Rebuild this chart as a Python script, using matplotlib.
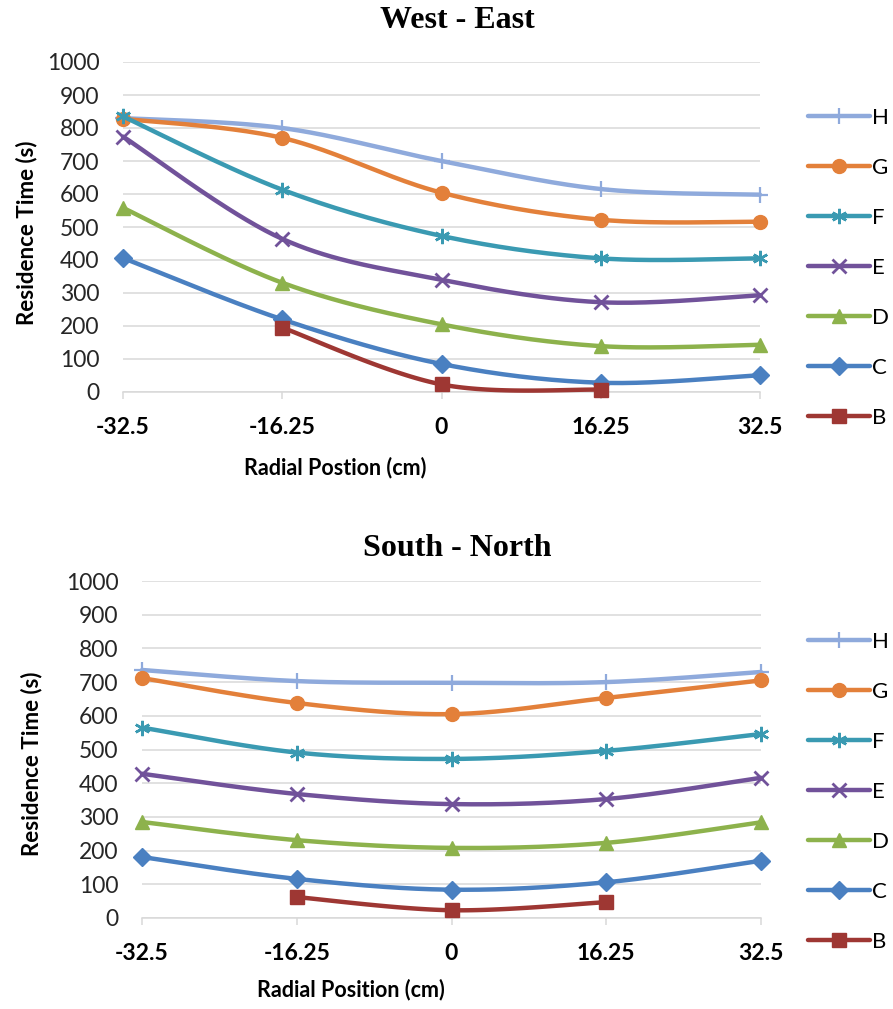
import numpy as np
import matplotlib
matplotlib.use("Agg")
import matplotlib.pyplot as plt

# Radial positions (cm) and their tick labels
positions = [-32.5, -16.25, 0.0, 16.25, 32.5]
tick_labels = ["-32.5", "-16.25", "0", "16.25", "32.5"]
yticks = [0, 100, 200, 300, 400, 500, 600, 700, 800, 900, 1000]

series_names = ["H", "G", "F", "E", "D", "C", "B"]
series_colors = ["#8FAADC", "#E3803A", "#3A9AB2", "#71529A", "#8DB24C", "#4A80C1", "#9E3733"]

# West - East residence times (s)
we_H = [830, 800, 700, 615, 598]
we_G = [828, 770, 604, 522, 516]
we_F = [835, 613, 473, 405, 405]
we_E = [774, 464, 340, 272, 293]
we_D = [558, 331, 205, 139, 143]
we_C = [406, 220, 85, 28, 51]
we_B = [np.nan, 195, 23, 7, np.nan]

# South - North residence times (s)
sn_H = [736, 703, 698, 700, 730]
sn_G = [712, 638, 605, 653, 705]
sn_F = [565, 491, 472, 496, 546]
sn_E = [428, 368, 338, 353, 416]
sn_D = [285, 231, 208, 223, 284]
sn_C = [181, 116, 84, 106, 170]
sn_B = [np.nan, 62, 23, 47, np.nan]

west_east = [we_H, we_G, we_F, we_E, we_D, we_C, we_B]
south_north = [sn_H, sn_G, sn_F, sn_E, sn_D, sn_C, sn_B]

markers = ["+", "o", (6, 2, 0), "x", "^", "D", "s"]
marker_sizes = [11, 10, 11, 10, 10, 9, 10]
marker_ew = [1.6, 1, 1.8, 2.0, 1, 1, 1]

SANS = "Lato"
SERIF = "Liberation Serif"


def smooth_curve(x, y, n=40):
    """Cubic Bezier smoothing through the points (spreadsheet-style smoothed line)."""
    x = np.asarray(x, float)
    y = np.asarray(y, float)
    ok = ~np.isnan(y)
    pts = np.column_stack([x[ok], y[ok]])
    out = [pts[0]]
    t = np.linspace(0, 1, n)[1:, None]
    for i in range(len(pts) - 1):
        p0 = pts[max(i - 1, 0)]
        p1 = pts[i]
        p2 = pts[i + 1]
        p3 = pts[min(i + 2, len(pts) - 1)]
        c1 = p1 + (p2 - p0) / 6.0
        c2 = p2 - (p3 - p1) / 6.0
        seg = (1 - t) ** 3 * p1 + 3 * (1 - t) ** 2 * t * c1 + 3 * (1 - t) * t ** 2 * c2 + t ** 3 * p2
        out.extend(seg)
    curve = np.array(out)
    marks = [k * (n - 1) for k in range(len(pts))]
    return curve[:, 0], curve[:, 1], marks


fig = plt.figure(figsize=(8.93, 10.09), dpi=100)
W, H = 893.0, 1009.0


def draw_panel(rect_px, data, title, title_y, xlabel, xlabel_xy, ylabel_xy, legend_top):
    left, right, top, bottom = rect_px
    ax = fig.add_axes([left / W, 1 - bottom / H, (right - left) / W, (bottom - top) / H])
    for name, vals, col, mk, ms, mew in zip(series_names, data, series_colors,
                                            markers, marker_sizes, marker_ew):
        cx, cy, marks = smooth_curve(positions, vals)
        ax.plot(cx, cy, color=col, lw=3.2, marker=mk, markevery=marks, ms=ms,
                mew=mew, mec=col, mfc=col, label=name, solid_capstyle="round",
                clip_on=False, zorder=3)
    ax.set_xlim(-32.5, 32.5)
    ax.set_ylim(0, 1000)
    ax.set_yticks(yticks)
    ax.set_xticks(positions)
    ax.set_xticklabels(tick_labels)
    ax.grid(axis="y", color="#D9D9D9", lw=1.1)
    ax.set_axisbelow(True)
    for s in ["top", "right", "left"]:
        ax.spines[s].set_visible(False)
    ax.spines["bottom"].set_color("#D9D9D9")
    ax.spines["bottom"].set_linewidth(1.1)
    ax.tick_params(axis="y", length=0, pad=17, labelsize=16.5, labelcolor="#262626")
    ax.tick_params(axis="x", direction="out", length=5, width=1.1, color="#D9D9D9",
                   pad=13, labelsize=16.5)
    for lab in ax.get_xticklabels() + ax.get_yticklabels():
        lab.set_fontfamily(SANS)
    for lab in ax.get_xticklabels():
        lab.set_fontweight("bold")

    fig.text(457 / W, 1 - title_y / H, title, ha="center", va="center",
             fontsize=23, fontweight="bold", family=SERIF)
    fig.text(xlabel_xy[0] / W, 1 - xlabel_xy[1] / H, xlabel, ha="center", va="center",
             fontsize=15.5, fontweight="bold", family=SANS)
    ax.set_ylabel("Residence Time (s)", fontsize=16, fontweight="bold", family=SANS)
    ax.yaxis.set_label_coords((ylabel_xy[0] - left) / (right - left),
                              (bottom - ylabel_xy[1]) / (bottom - top))

    ax.legend(loc="upper left", bbox_to_anchor=(808 / W, 1 - legend_top / H),
              bbox_transform=fig.transFigure, frameon=False, numpoints=1,
              handlelength=2.8, handletextpad=0.1, labelspacing=1.35,
              borderaxespad=0, borderpad=0,
              prop={"family": SANS, "size": 16})
    return ax


draw_panel((123, 760, 62, 392), west_east, "West - East", 21,
           "Radial Postion (cm)", (335, 468), (37, 233), 108)
draw_panel((142, 761, 581, 918), south_north, "South - North", 548,
           "Radial Position (cm)", (351, 990), (42, 764), 632)

fig.savefig("out.png", dpi=100)
